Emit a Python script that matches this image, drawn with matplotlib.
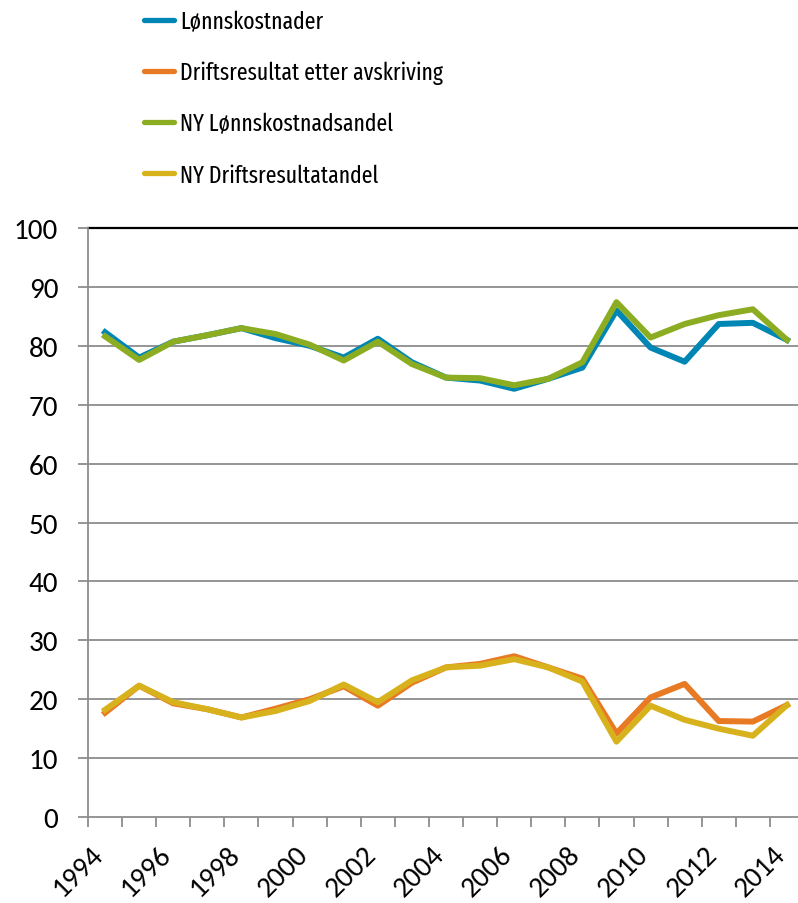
import matplotlib.pyplot as plt
import matplotlib.transforms as mtransforms

years = list(range(1994, 2015))
tick_labels = [str(y) if (y - 1994) % 2 == 0 else "" for y in years]

lonnskostnader = [82.3, 78.0, 80.7, 81.8, 83.0, 81.3, 80.0, 78.0, 81.2, 77.2, 74.6,
                  74.1, 72.7, 74.4, 76.3, 86.0, 79.7, 77.3, 83.7, 83.9, 81.0]
driftsresultat = [17.7, 22.3, 19.3, 18.3, 16.9, 18.4, 20.0, 22.2, 18.9, 22.8, 25.4,
                  26.0, 27.3, 25.4, 23.5, 14.2, 20.3, 22.6, 16.3, 16.2, 19.0]
ny_lonn = [81.6, 77.6, 80.7, 81.8, 83.0, 82.0, 80.2, 77.5, 80.7, 76.9, 74.6,
           74.5, 73.3, 74.4, 77.2, 87.4, 81.4, 83.7, 85.2, 86.2, 81.0]
ny_drift = [18.2, 22.3, 19.5, 18.3, 16.9, 18.0, 19.7, 22.5, 19.5, 23.2, 25.4,
            25.7, 26.8, 25.4, 23.0, 12.8, 18.9, 16.5, 15.0, 13.8, 19.0]

plt.rcParams['font.family'] = ['Carlito', 'Lato', 'DejaVu Sans']

fig = plt.figure(figsize=(7.98, 9.04), dpi=100)
ax = fig.add_axes([0.1103, 0.0951, 0.8972, 0.6516])

x = list(range(len(years)))
lw = 4.3
ax.plot(x, lonnskostnader, color="#0086B4", lw=lw, label="Lønnskostnader")
ax.plot(x, driftsresultat, color="#E87A24", lw=lw, label="Driftsresultat etter avskriving")
ax.plot(x, ny_lonn, color="#8CAD21", lw=lw, label="NY Lønnskostnadsandel")
ax.plot(x, ny_drift, color="#D8B21C", lw=lw, label="NY Driftsresultatandel")

ax.set_xlim(-0.5, 20.5)
ax.set_ylim(0, 100)
ax.set_yticks(range(0, 101, 10))
ax.tick_params(axis='y', labelsize=21, length=7.5, width=1.3, color="#8C8C8C", pad=14)
ax.set_xticks(x)
ax.set_xticklabels(tick_labels, rotation=45, ha='right', va='center', rotation_mode='anchor', fontsize=21)
ax.tick_params(axis='x', length=0, pad=24)
shift = mtransforms.ScaledTranslation(-6 / 100, 0, fig.dpi_scale_trans)
for lab in ax.get_xticklabels():
    lab.set_transform(lab.get_transform() + shift)
ax.set_xticks([i - 0.5 for i in range(len(years) + 1)], minor=True)
ax.tick_params(axis='x', which='minor', length=7, width=1.3, color="#8C8C8C")

for v in range(10, 100, 10):
    ax.axhline(v, color="#8C8C8C", lw=1.3, zorder=0)
ax.axhline(100, color="black", lw=1.6, zorder=0, clip_on=False)

for s in ['top', 'right']:
    ax.spines[s].set_visible(False)
ax.spines['left'].set_color("#8C8C8C")
ax.spines['left'].set_linewidth(1.3)
ax.spines['bottom'].set_color("#8C8C8C")
ax.spines['bottom'].set_linewidth(1.3)

leg = fig.legend(loc='upper left', bbox_to_anchor=(0.181, 0.988), frameon=False,
                 prop={'family': ['Fira Sans Extra Condensed', 'Fira Sans Condensed', 'Carlito', 'Lato'],
                       'size': 17},
                 borderpad=0, borderaxespad=0,
                 handlelength=1.25, handletextpad=0.25, labelspacing=1.18)
for line in leg.get_lines():
    line.set_linewidth(3.8)
    line.set_solid_capstyle('round')

fig.savefig("out.png", dpi=100)
